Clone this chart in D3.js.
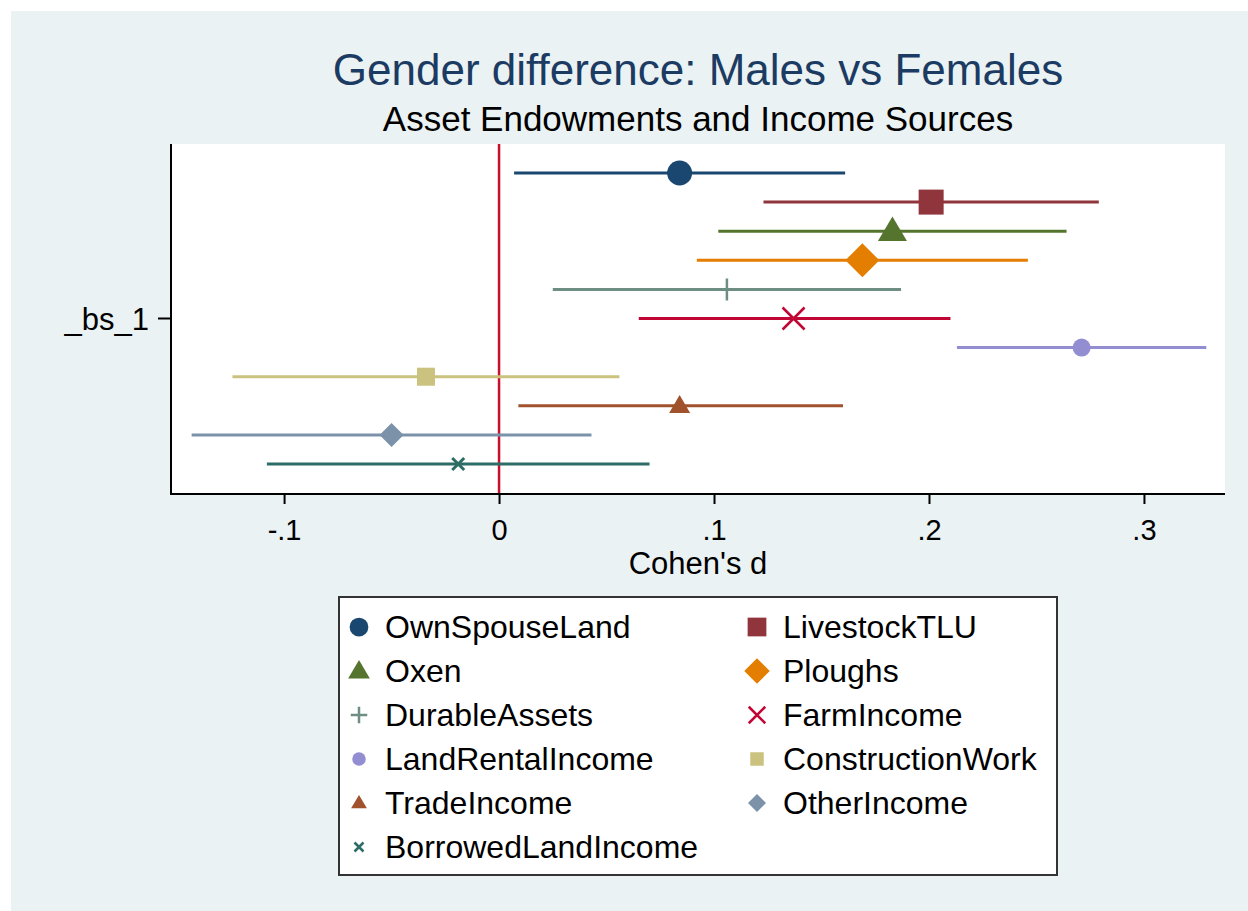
<!DOCTYPE html>
<html>
<head>
<meta charset="utf-8">
<script src="https://cdn.jsdelivr.net/npm/d3@7"></script>
<style>
  html, body { margin: 0; padding: 0; background: #fff; }
  svg text { font-family: Arial, "Liberation Sans", sans-serif; }
</style>
</head>
<body>
<svg id="chart" width="1248" height="911"></svg>
<script>
// series, in plot order (top to bottom)
const seriesNames = ["OwnSpouseLand", "LivestockTLU", "Oxen", "Ploughs", "DurableAssets", "FarmIncome",
  "LandRentalIncome", "ConstructionWork", "TradeIncome", "OtherIncome", "BorrowedLandIncome"];
const estimates = [0.084, 0.201, 0.183, 0.169, 0.106, 0.137, 0.271, -0.034, 0.084, -0.050, -0.019];
const ciLower   = [0.007, 0.123, 0.102, 0.092, 0.025, 0.065, 0.213, -0.124, 0.009, -0.143, -0.108];
const ciUpper   = [0.161, 0.279, 0.264, 0.246, 0.187, 0.210, 0.329, 0.056, 0.160, 0.043, 0.070];
const xTicks = [-0.1, 0, 0.1, 0.2, 0.3];
const coefLabel = "_bs_1";

// look of each series (Stata s2color)
const colors = ["#1a476f", "#90353b", "#55752f", "#e37e00", "#6e8e84", "#c10534",
  "#938dd2", "#cac27e", "#a0522d", "#7b92a8", "#2d6d66"];
const shapes = ["circle", "square", "triangle", "diamond", "plus", "x",
  "circle", "square", "triangle", "diamond", "x"];
const sizes = [25, 25, 29, 34, 22, 22, 18, 18, 21, 24, 12];

const svg = d3.select("#chart");
const W = 1248, H = 911;
const plot = { left: 171, right: 1225, top: 144, bottom: 494 };

// background
svg.append("rect").attr("x", 11).attr("y", 11).attr("width", W - 11).attr("height", H - 11)
  .attr("fill", "#eaf2f3");
svg.append("rect").attr("x", plot.left).attr("y", plot.top)
  .attr("width", plot.right - plot.left).attr("height", plot.bottom - plot.top)
  .attr("fill", "#fff");

const x = d3.scaleLinear().domain([-0.1526, 0.3377]).range([plot.left, plot.right]);
const y = d3.scalePoint().domain(seriesNames).range([173, 464]);

// marker path in pixels, centred on 0,0
function markerPath(shape, s) {
  const h = s / 2;
  switch (shape) {
    case "circle": return d3.symbol(d3.symbolCircle, Math.PI * h * h)();
    case "square": return `M${-h},${-h}H${h}V${h}H${-h}Z`;
    case "triangle": {
      const th = s * 0.85;
      return `M0,${-th * 0.6}L${h},${th * 0.4}L${-h},${th * 0.4}Z`;
    }
    case "diamond": return `M0,${-h}L${h},0L0,${h}L${-h},0Z`;
    case "plus": return `M${-h},0H${h}M0,${-h}V${h}`;
    case "x": return `M${-h},${-h}L${h},${h}M${-h},${h}L${h},${-h}`;
  }
}
const stroked = s => s === "plus" || s === "x";

// zero reference line
svg.append("line")
  .attr("x1", x(0)).attr("x2", x(0))
  .attr("y1", plot.top).attr("y2", plot.bottom)
  .attr("stroke", "#c8102e").attr("stroke-width", 2.5);

const rows = seriesNames.map((name, i) => ({
  name, est: estimates[i], lo: ciLower[i], hi: ciUpper[i],
  color: colors[i], shape: shapes[i], size: sizes[i]
}));

// confidence intervals
svg.append("g").attr("class", "ci-layer")
  .selectAll("line")
  .data(rows)
  .join("line")
  .attr("x1", d => x(d.lo)).attr("x2", d => x(d.hi))
  .attr("y1", d => y(d.name)).attr("y2", d => y(d.name))
  .attr("stroke", d => d.color)
  .attr("stroke-width", 3);

// point estimates
svg.append("g").attr("class", "points-layer")
  .selectAll("path")
  .data(rows)
  .join("path")
  .attr("transform", d => `translate(${x(d.est)},${y(d.name)})`)
  .attr("d", d => markerPath(d.shape, d.size))
  .attr("fill", d => stroked(d.shape) ? "none" : d.color)
  .attr("stroke", d => stroked(d.shape) ? d.color : "none")
  .attr("stroke-width", d => d.shape === "x" && d.size < 15 ? 3 : 2.5);

// axes (Stata style labels: ".1", "-.1")
const fmtTick = d => d === 0 ? "0" : d.toFixed(1).replace("0.", ".");
const xAxis = svg.append("g")
  .attr("transform", `translate(0,${plot.bottom})`)
  .call(d3.axisBottom(x).tickValues(xTicks).tickSize(10).tickPadding(15).tickFormat(fmtTick));
xAxis.select(".domain").attr("d", `M${plot.left},0H${plot.right}`).attr("stroke", "#000").attr("stroke-width", 2);
xAxis.selectAll(".tick line").attr("stroke", "#000").attr("stroke-width", 2);
xAxis.selectAll(".tick text").attr("fill", "#000").style("font-size", "29px")
  .style("font-family", "Arial, 'Liberation Sans', sans-serif");

const yCenter = (y(seriesNames[0]) + y(seriesNames[seriesNames.length - 1])) / 2;
svg.append("line").attr("x1", plot.left).attr("x2", plot.left)
  .attr("y1", plot.top).attr("y2", plot.bottom + 1)
  .attr("stroke", "#000").attr("stroke-width", 2);
svg.append("line").attr("x1", plot.left - 13).attr("x2", plot.left)
  .attr("y1", yCenter).attr("y2", yCenter)
  .attr("stroke", "#000").attr("stroke-width", 2);
svg.append("text").attr("x", plot.left - 22).attr("y", yCenter + 11)
  .attr("text-anchor", "end").style("font-size", "31px").text(coefLabel);

// titles
const cx = (plot.left + plot.right) / 2;
svg.append("text").attr("x", cx).attr("y", 85).attr("text-anchor", "middle")
  .attr("fill", "#1c3b63").style("font-size", "44px")
  .text("Gender difference: Males vs Females");
svg.append("text").attr("x", cx).attr("y", 131).attr("text-anchor", "middle")
  .attr("fill", "#000").style("font-size", "35px")
  .text("Asset Endowments and Income Sources");
svg.append("text").attr("x", cx).attr("y", 574).attr("text-anchor", "middle")
  .attr("fill", "#000").style("font-size", "31px")
  .text("Cohen's d");

// legend
const leg = { x: 339, y: 597, w: 718, h: 278 };
svg.append("rect").attr("x", leg.x).attr("y", leg.y).attr("width", leg.w).attr("height", leg.h)
  .attr("fill", "#fff").attr("stroke", "#333").attr("stroke-width", 2);

const legItems = svg.append("g").attr("class", "legend")
  .selectAll("g")
  .data(rows)
  .join("g")
  .attr("transform", (d, i) => `translate(${i % 2 === 0 ? 359 : 757},${627 + Math.floor(i / 2) * 44})`);

legItems.append("path")
  .attr("d", d => markerPath(d.shape, d.size * 0.75))
  .attr("fill", d => stroked(d.shape) ? "none" : d.color)
  .attr("stroke", d => stroked(d.shape) ? d.color : "none")
  .attr("stroke-width", 2.5);

legItems.append("text")
  .attr("x", 26).attr("y", 11)
  .style("font-size", "32px")
  .attr("fill", "#000")
  .text(d => d.name);
</script>
</body>
</html>
